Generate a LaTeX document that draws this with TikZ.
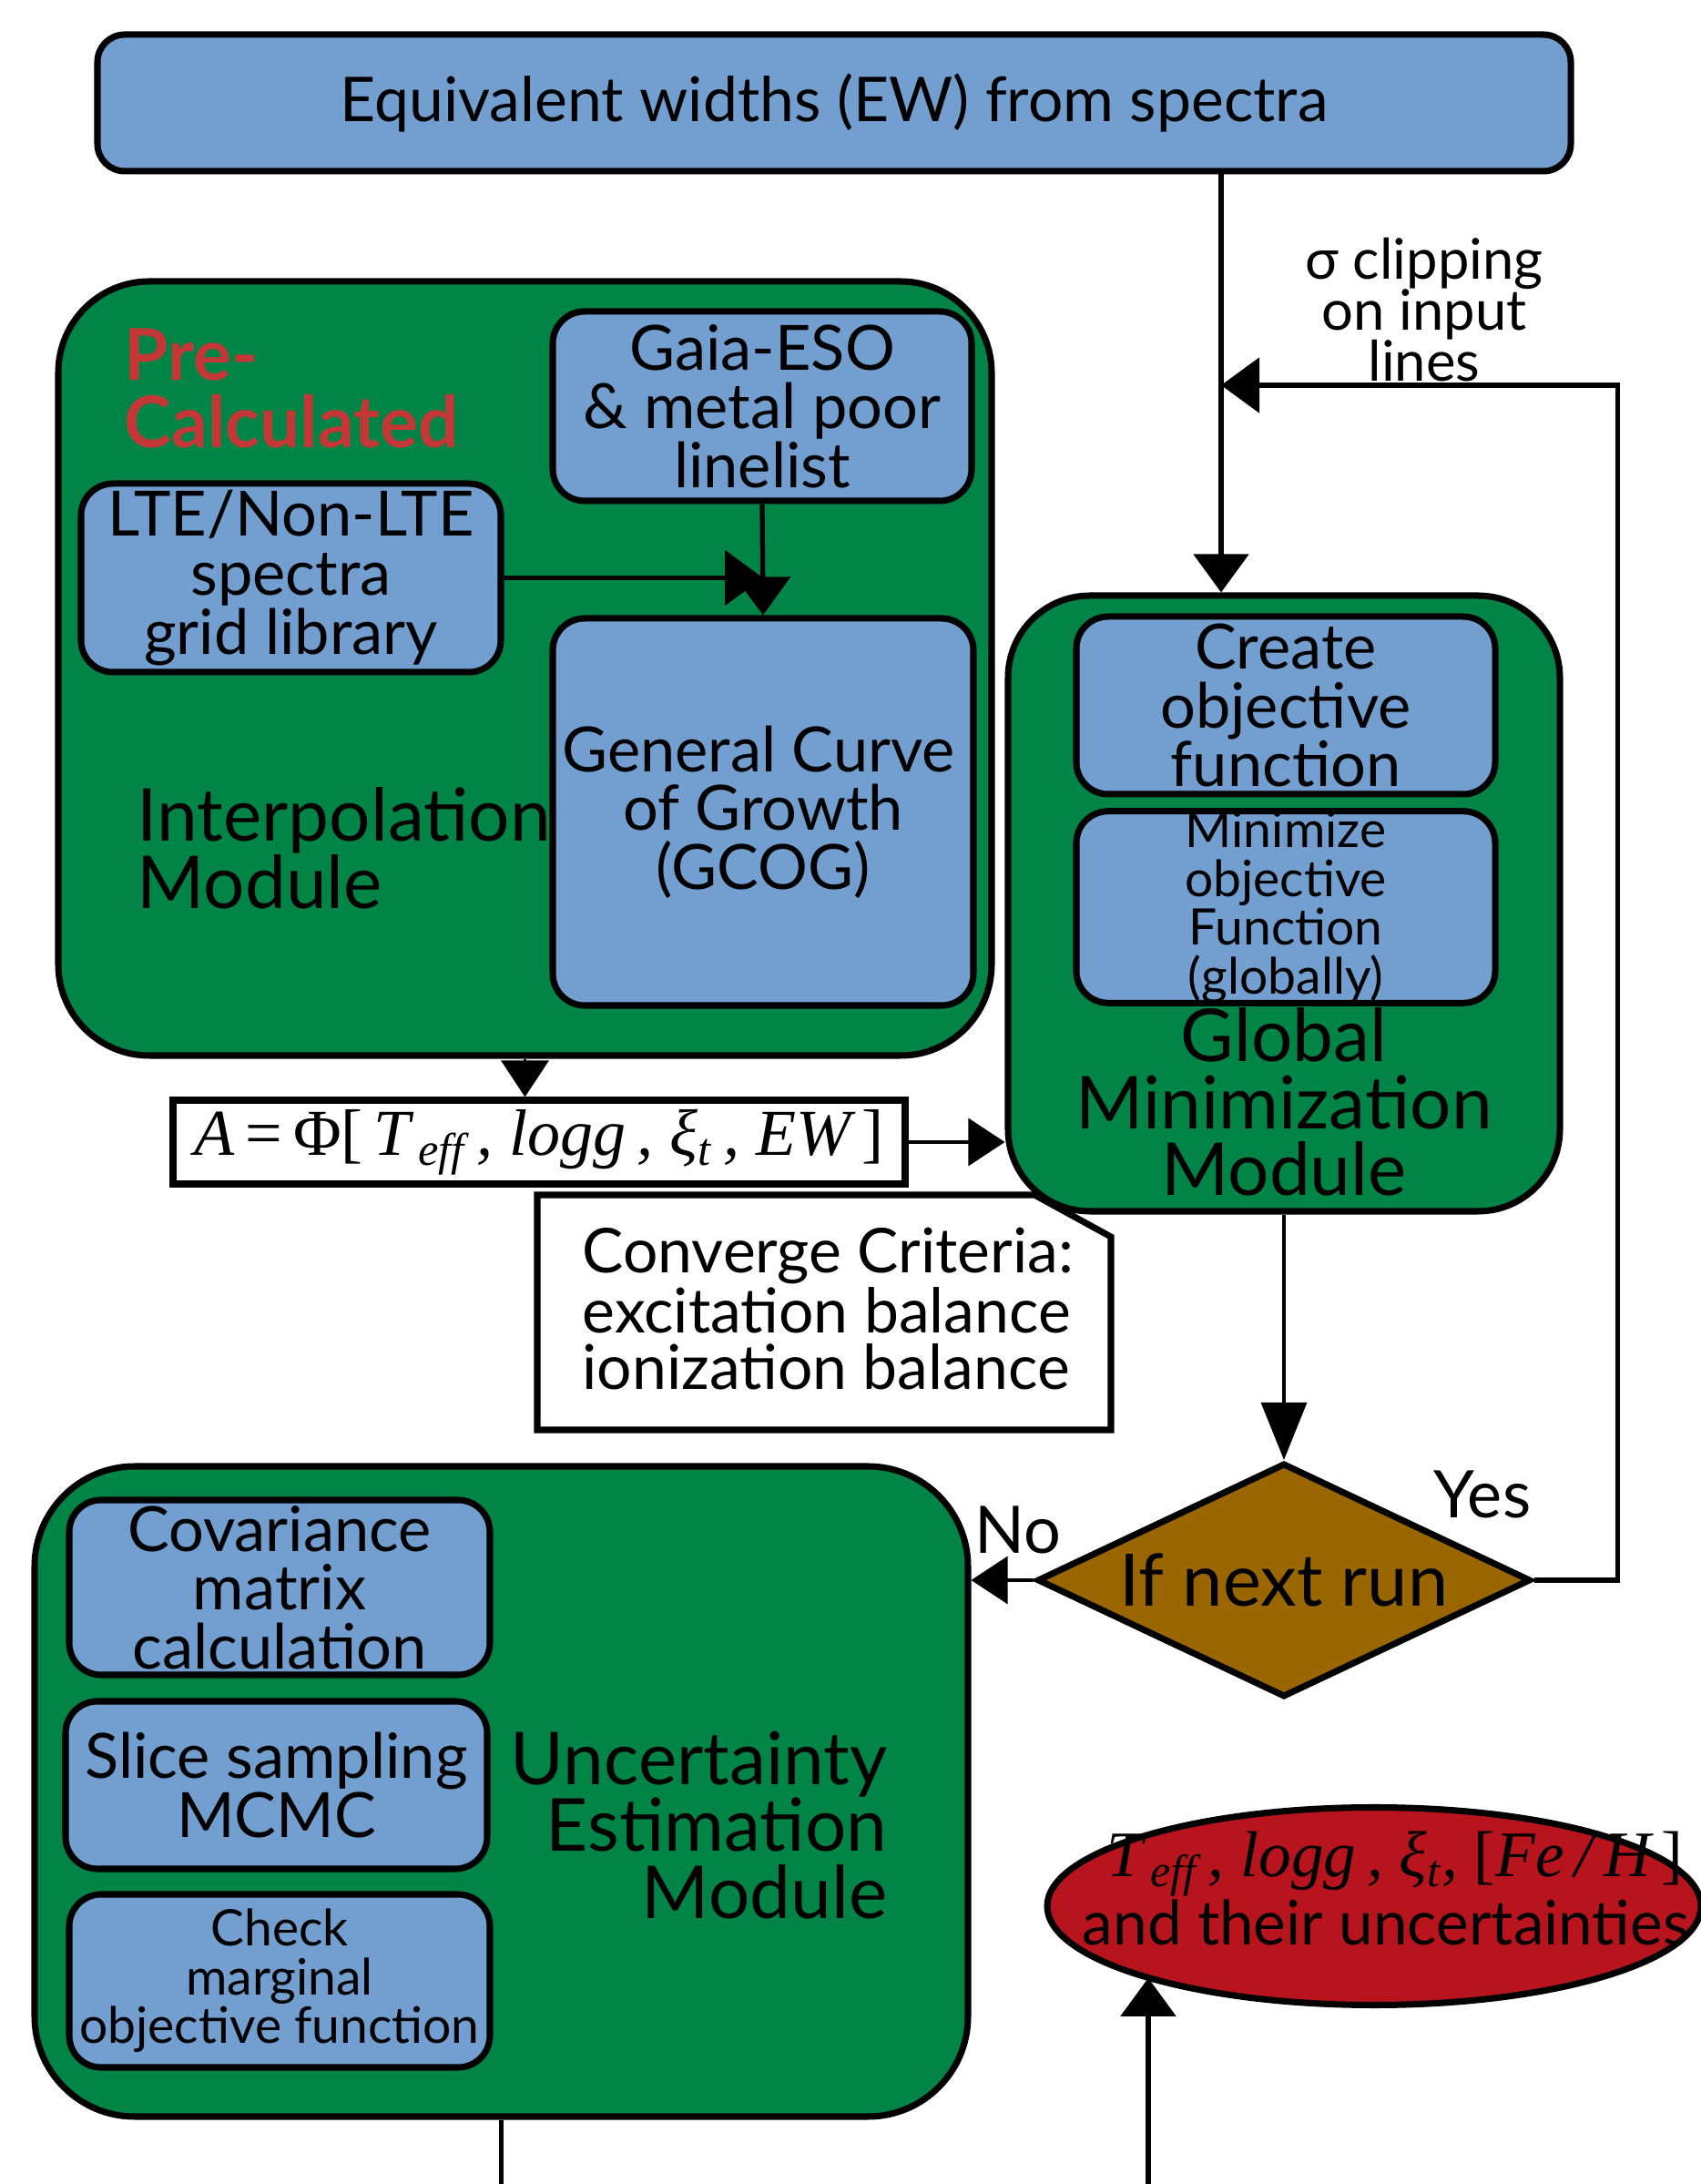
\documentclass[tikz,border=0pt]{standalone}
\usepackage{fontspec}
\setmainfont{Lato}
\newfontfamily\formfont{Liberation Serif}
\usetikzlibrary{shapes.geometric,arrows.meta}
\definecolor{modgreen}{RGB}{0,133,71}
\definecolor{taskblue}{RGB}{114,159,207}
\definecolor{decbrown}{RGB}{153,102,0}
\definecolor{resred}{RGB}{184,20,30}
\definecolor{prered}{RGB}{196,55,55}
\newcommand{\tskfont}{\fontsize{19.5}{18.4}\selectfont}
\newcommand{\modfont}{\fontsize{22.8}{21}\selectfont}
\newcommand{\minifont}{\fontsize{15.7}{15.2}\selectfont}
\tikzstyle{module} = [draw=black, line width=2pt, fill=modgreen, rounded corners=1cm, inner sep=0]
\tikzstyle{task} = [draw=black, line width=2pt, fill=taskblue, rounded corners=0.35cm, inner sep=0, align=center, font=\tskfont]
\tikzstyle{arrow} = [line width=1.5pt, -{Triangle[length=0.42cm,width=0.6cm]}]
\tikzstyle{thinarrow} = [line width=0.9pt, -{Triangle[length=0.4cm,width=0.52cm]}]
\tikzstyle{longarrow} = [line width=0.9pt, -{Triangle[length=0.63cm,width=0.5cm]}]

\begin{document}
\begin{tikzpicture}
    \useasboundingbox (0,0) rectangle (18.67,23.98);

    % input
    \node[task, minimum width=16.18cm, minimum height=1.5cm, rounded corners=0.3cm, font=\fontsize{19.3}{19}\selectfont] (ew) at (9.16,22.85) {Equivalent widths (EW) from spectra};

    % interpolation module
    \node[module, minimum width=10.25cm, minimum height=8.5cm] (interp) at (5.765,16.64) {};
    \node[anchor=north west, inner sep=0, align=left, text=prered, font=\fontsize{22.3}{21}\selectfont\bfseries] (pre) at (1.36,20.38) {Pre-\\Calculated};
    \node[anchor=west, inner sep=0, align=left, font=\modfont] (ilab) at (1.50,14.67) {Interpolation\\Module};
    \node[task, minimum width=4.6cm, minimum height=2.08cm] (gaia) at (8.37,19.52) {Gaia-ESO\\\& metal poor\\linelist};
    \node[task, minimum width=4.61cm, minimum height=2.07cm] (lte) at (3.195,17.635) {LTE/Non-LTE\\spectra\\grid library};
    \node[task, minimum width=4.62cm, minimum height=4.25cm] (gcog) at (8.38,15.065) {\hspace*{-0.1cm}General Curve\\of Growth\\(GCOG)};
    \draw[arrow] (lte.east) -- (lte.east -| gcog.north);
    \draw[arrow] (gaia.south) -- (gcog.north);

    % formula
    \node[draw=black, line width=2pt, fill=white, minimum width=8.04cm, minimum height=0.92cm, inner sep=0, font=\formfont\fontsize{20.5}{21}\selectfont] (form) at (5.92,11.44)
        {\itshape A\,{\upshape =\,Φ[\,}T\textsubscript{\,eff}\,, logg\,, ξ\textsubscript{t}\,, EW\,{\upshape ]}};
    \draw[thinarrow] (interp.south) -- (interp.south |- form.north);

    % global minimization module
    \node[module, minimum width=6.06cm, minimum height=6.76cm, rounded corners=0.9cm] (gmin) at (14.10,14.06) {};
    \node[task, minimum width=4.6cm, minimum height=1.95cm] (create) at (14.12,16.235) {Create\\objective\\function};
    \node[task, minimum width=4.6cm, minimum height=1.94cm, font=\minifont] (minim) at (14.12,14.02) {Minimize\\objective\\Function\\(globally)};
    \node[inner sep=0, align=center, font=\modfont] (glab) at (14.10,11.88) {Global\\Minimization\\Module};
    \draw[thinarrow] (form.east) -- (form.east -| gmin.west);

    % input line and sigma clipping
    \coordinate (clip) at (13.41,19.75);
    \draw[arrow] (ew.south -| clip) -- (clip |- gmin.north);
    \node[inner sep=0, align=center, font=\fontsize{17.5}{16}\selectfont] (sig) at (15.64,20.58) {σ clipping\\on input\\lines};

    % converge criteria
    \filldraw[fill=white, draw=black, line width=2pt] (5.90,8.28) -- (5.90,10.86) -- (11.36,10.86) -- (12.20,10.40) -- (12.20,8.28) -- cycle;
    \node[anchor=west, inner sep=0, align=left, font=\fontsize{19.3}{17.6}\selectfont] (conv) at (6.39,9.61) {Converge Criteria:\\excitation balance\\ionization balance};

    % decision
    \node[diamond, draw=black, line width=2pt, fill=decbrown, aspect=2.1, minimum width=5.42cm, minimum height=2.57cm, inner sep=0, font=\fontsize{22.6}{21}\selectfont] (nxt) at (14.10,6.63) {If next run};
    \draw[longarrow] (gmin.south) -- (nxt.north);
    \draw[arrow] (nxt.east) -- ++(0.92,0) |- (clip);
    \node[inner sep=0, font=\fontsize{20.5}{19}\selectfont] (yes) at (16.28,7.57) {Yes};
    \node[inner sep=0, font=\fontsize{20.5}{19}\selectfont] (no) at (11.18,7.18) {No};

    % uncertainty estimation module
    \node[module, minimum width=10.25cm, minimum height=7.14cm, rounded corners=1.1cm] (unc) at (5.505,4.31) {};
    \node[task, minimum width=4.62cm, minimum height=1.92cm] (cov) at (3.07,6.55) {Covariance\\matrix\\calculation};
    \node[task, minimum width=4.63cm, minimum height=1.84cm] (slice) at (3.035,4.38) {Slice sampling\\MCMC};
    \node[task, minimum width=4.62cm, minimum height=1.9cm, font=\minifont] (check) at (3.07,2.23) {Check\\marginal\\objective function};
    \node[anchor=east, inner sep=0, align=right, font=\modfont] (ulab) at (9.75,3.94) {Uncertainty\\Estimation\\Module};
    \draw[thinarrow] (nxt.west) -- (nxt.west -| unc.east);

    % result
    \node[ellipse, draw=black, line width=2pt, fill=resred, minimum width=7.18cm, minimum height=2.17cm, inner sep=0] (res) at (15.09,3.05) {};
    \node[inner sep=0, align=center, font=\fontsize{19.2}{19.5}\selectfont] (restxt) at (15.22,3.25)
        {\hspace*{0.2cm}{\formfont\itshape\fontsize{20.3}{21}\selectfont T\textsubscript{\,eff}\,, logg\,, ξ\textsubscript{t}, {\upshape [}Fe\,/\,H\,{\upshape ]}}\\and their uncertainties};

    % lines leaving the page
    \coordinate (outA) at (5.505,0);
    \coordinate (outB) at (12.61,0);
    \draw[line width=1.2pt] (unc.south) -- (outA);
    \draw[arrow] (outB) -- (outB |- res.197.5);
\end{tikzpicture}
\end{document}
